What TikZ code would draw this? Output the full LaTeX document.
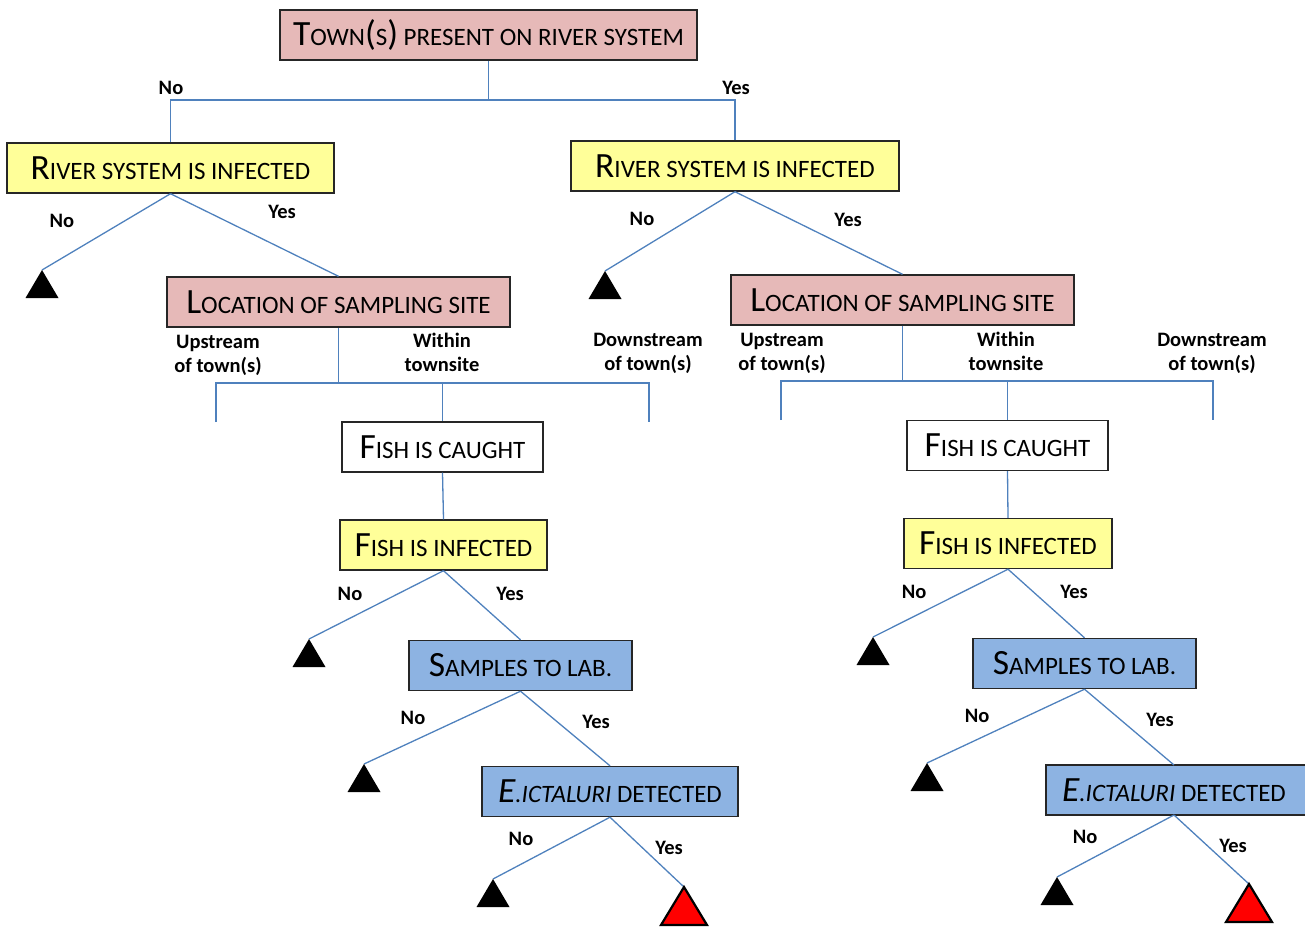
\documentclass[tikz,border=0pt]{standalone}
\usepackage{fontspec}
\setmainfont{Carlito}
\usetikzlibrary{calc}
\definecolor{pinkbox}{HTML}{E6B9B8}
\definecolor{yellowbox}{HTML}{FFFF99}
\definecolor{bluebox}{HTML}{8DB3E2}
\definecolor{linkblue}{HTML}{4F81BD}
\newcommand\BC[1]{{\fontsize{35.5}{40}\selectfont #1}}
\tikzset{
  box/.style={draw=black!85, line width=1.4pt, minimum height=50, inner sep=0,
    font=\fontsize{25}{28}\selectfont},
  pinkb/.style={box, fill=pinkbox},
  yellowb/.style={box, fill=yellowbox},
  blueb/.style={box, fill=bluebox},
  whiteb/.style={box, fill=white},
  link/.style={draw=linkblue, line width=1.3pt},
  lab/.style={font=\fontsize{20.5}{24}\selectfont\bfseries, inner sep=0, align=center},
  tri/.style={fill=black},
  redtri/.style={fill=red, draw=black, line width=2.2pt, line join=miter},
}
\newcommand\blacktri[1]{\fill[tri] (#1) -- ++(-16.5,28) -- ++(33,0) -- cycle;}
\newcommand\redtri[1]{\filldraw[redtri] (#1) -- ++(-23,38) -- ++(46,0) -- cycle;}
\begin{document}
\begin{tikzpicture}[x=1pt,y=-1pt]
\useasboundingbox (0,0) rectangle (1305,927);

% boxes
\node[pinkb, minimum width=417] (top) at (488.5,35) {\BC{T}OWN\BC{(}S\BC{)} PRESENT ON RIVER SYSTEM};
\node[yellowb, minimum width=327] (lriver) at (170.5,168) {\BC{R}IVER SYSTEM IS INFECTED};
\node[yellowb, minimum width=328] (rriver) at (735,166) {\BC{R}IVER SYSTEM IS INFECTED};
\node[pinkb, minimum width=343] (lloc) at (338.5,302) {\BC{L}OCATION OF SAMPLING SITE};
\node[pinkb, minimum width=343] (rloc) at (902.5,300) {\BC{L}OCATION OF SAMPLING SITE};
\node[whiteb, minimum width=201] (lcaught) at (442.5,447) {\BC{F}ISH IS CAUGHT};
\node[whiteb, minimum width=201] (rcaught) at (1007.5,445.5) {\BC{F}ISH IS CAUGHT};
\node[yellowb, minimum width=207] (linf) at (443.5,545) {\BC{F}ISH IS INFECTED};
\node[yellowb, minimum width=208] (rinf) at (1008,543.5) {\BC{F}ISH IS INFECTED};
\node[blueb, minimum width=223] (lsamp) at (520.5,665.5) {\BC{S}AMPLES TO LAB.};
\node[blueb, minimum width=223] (rsamp) at (1084.5,663.5) {\BC{S}AMPLES TO LAB.};
\node[blueb, minimum width=256] (leic) at (610,791.5) {\textit{\BC{E}.ICTALURI} DETECTED};
\node[blueb, minimum width=266] (reic) at (1179,790) {\kern-10pt\textit{\BC{E}.ICTALURI} DETECTED};

% triangle apexes
\coordinate (t1) at (42,270);
\coordinate (t2) at (605,271);
\coordinate (t3) at (309,639);
\coordinate (t4) at (364,764);
\coordinate (t5) at (493,879);
\coordinate (t6) at (873,637);
\coordinate (t7) at (927,763);
\coordinate (t8) at (1057,877);
\coordinate (r1) at (684,887);
\coordinate (r2) at (1249,884);

% top split
\coordinate (j0) at (488.5,100);
\draw[link] (top.south) -- (j0);
\draw[link] (lriver.north) -- (lriver.north |- j0) -- (rriver.north |- j0) -- (rriver.north);
\node[lab] at (171,88) {No};
\node[lab] at (736,88) {Yes};

% river infected branches
\draw[link] (lriver.south) -- (t1);
\draw[link] (lriver.south) -- (lloc.north);
\node[lab] at (62,221) {No};
\node[lab] at (282,212) {Yes};
\draw[link] (rriver.south) -- (t2);
\draw[link] (rriver.south) -- (rloc.north);
\node[lab] at (642,219) {No};
\node[lab] at (848,220) {Yes};

% location split left
\coordinate (lj) at (338.5,383);
\coordinate (lup) at (216,422);
\coordinate (ldn) at (649,422);
\draw[link] (lloc.south) -- (lj);
\draw[link] (lup) -- (lup |- lj) -- (ldn |- lj) -- (ldn);
\draw[link] (lcaught.north |- lj) -- (lcaught.north);
\node[lab] at (218,355) {Upstream\\of town(s)};
\node[lab] at (442,352) {Within\\townsite};
\node[lab] at (648,353) {Downstream\\of town(s)};

% location split right
\coordinate (rj) at (902.5,381);
\coordinate (rup) at (781,420);
\coordinate (rdn) at (1213,420);
\draw[link] (rloc.south) -- (rj);
\draw[link] (rup) -- (rup |- rj) -- (rdn |- rj) -- (rdn);
\draw[link] (rcaught.north |- rj) -- (rcaught.north);
\node[lab] at (782,353) {Upstream\\of town(s)};
\node[lab] at (1006,351) {Within\\townsite};
\node[lab] at (1212,353) {Downstream\\of town(s)};

% caught -> infected
\draw[link] (lcaught.south) -- (linf.north);
\draw[link] (rcaught.south) -- (rinf.north);

% left lower chain
\draw[link] (linf.south) -- (t3);
\draw[link] (linf.south) -- (lsamp.north);
\node[lab] at (350,594) {No};
\node[lab] at (510,594) {Yes};
\draw[link] (lsamp.south) -- (t4);
\draw[link] (lsamp.south) -- (leic.north);
\node[lab] at (413,718) {No};
\node[lab] at (596,722) {Yes};
\draw[link] (leic.south) -- (t5);
\draw[link] (leic.south) -- (r1);
\node[lab] at (521,839) {No};
\node[lab] at (669,848) {Yes};

% right lower chain
\coordinate (reicb) at (1174,815);
\coordinate (reict) at (1174,765);
\draw[link] (rinf.south) -- (t6);
\draw[link] (rinf.south) -- (rsamp.north);
\node[lab] at (914,592) {No};
\node[lab] at (1074,592) {Yes};
\draw[link] (rsamp.south) -- (t7);
\draw[link] (rsamp.south) -- (reict);
\node[lab] at (977,716) {No};
\node[lab] at (1160,720) {Yes};
\draw[link] (reicb) -- (t8);
\draw[link] (reicb) -- (r2);
\node[lab] at (1085,837) {No};
\node[lab] at (1233,846) {Yes};

% triangles
\blacktri{t1}\blacktri{t2}\blacktri{t3}\blacktri{t4}
\blacktri{t5}\blacktri{t6}\blacktri{t7}\blacktri{t8}
\redtri{r1}\redtri{r2}
\end{tikzpicture}
\end{document}
